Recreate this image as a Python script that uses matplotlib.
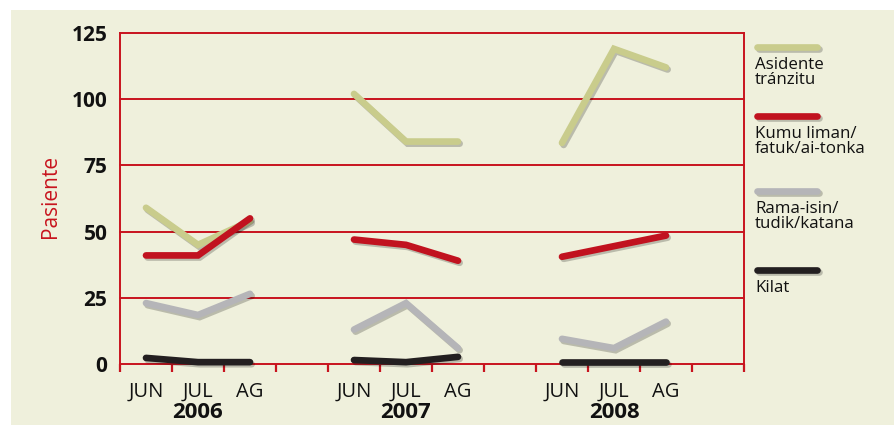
import matplotlib
matplotlib.use("Agg")
import matplotlib.pyplot as plt
import matplotlib.patheffects as pe
from matplotlib.patches import Rectangle
from matplotlib.lines import Line2D

plt.rcParams['font.family'] = ['Open Sans', 'DejaVu Sans']

years = ["2006", "2007", "2008"]
months = ["JUN", "JUL", "AG"]
series_names = ["Asidente\ntránzitu", "Kumu liman/\nfatuk/ai-tonka", "Rama-isin/\ntudik/katana", "Kilat"]
asidente = [[59, 45, 54], [102, 84, 84], [83.5, 119, 112]]
kumu = [[41, 41, 55], [47, 45, 39], [40.5, 44.5, 48.5]]
rama = [[23, 18.5, 26.5], [13, 23, 6], [9.5, 6, 16]]
kilat = [[2.3, 0.7, 0.7], [1.5, 0.7, 2.7], [0.7, 0.7, 0.7]]
yticks = [0, 25, 50, 75, 100, 125]

colors = ["#c9cc8c", "#c1121f", "#b5b5b8", "#231f20"]
all_series = [asidente, kumu, rama, kilat]
RED = "#c8141e"
BG = "#eff0dc"

fig = plt.figure(figsize=(8.94, 4.25), dpi=100)
fig.patch.set_facecolor("white")
fig.patches.append(Rectangle((11/894, 0), 1 - 11/894, 1 - 10/425, transform=fig.transFigure,
                             facecolor=BG, edgecolor="none", zorder=-10))

ax = fig.add_axes([120/894, (425-364)/425, 624/894, 331/425])
ax.set_facecolor("none")
ax.set_xlim(0, 12)
ax.set_ylim(0, 125)

for y in yticks:
    ax.axhline(y, color=RED, lw=1.4, zorder=1, clip_on=False)

for s in ["top", "bottom"]:
    ax.spines[s].set_visible(False)
for s in ["left", "right"]:
    ax.spines[s].set_color(RED)
    ax.spines[s].set_linewidth(1.4)

ax.set_yticks(yticks)
ax.set_yticklabels([str(v) for v in yticks], fontsize=15, fontweight="bold", color="#111111")
ax.tick_params(axis="y", length=0, pad=9)

ax.set_xticks(range(13))
ax.set_xticklabels([])
ax.tick_params(axis="x", which="major", direction="out", length=6, width=1.6, color=RED)

month_pos = []
month_lab = []
for yi in range(len(years)):
    for mi in range(len(months)):
        month_pos.append(yi * 4 + mi + 0.5)
        month_lab.append(months[mi])
ax.set_xticks(month_pos, minor=True)
ax.set_xticklabels(month_lab, minor=True, fontsize=14.5, color="#111111")
ax.tick_params(axis="x", which="minor", length=0, pad=13)

for yi, yr in enumerate(years):
    ax.text(yi * 4 + 1.5, -(413 - 364) / 331, yr, transform=ax.get_xaxis_transform(), ha="center",
            va="center", fontsize=16, fontweight="bold", color="#111111")

ax.set_ylabel("Pasiente", color=RED, fontsize=15)
ax.yaxis.set_label_coords(-0.0945, 0.505)

effects = [pe.SimpleLineShadow(offset=(1.2, -1.5), shadow_color="black", alpha=0.22), pe.Normal()]
for si, (ser, col) in enumerate(zip(all_series, colors)):
    for yi in range(len(years)):
        xs = [yi * 4 + mi + 0.5 for mi in range(len(months))]
        ax.plot(xs, ser[yi], color=col, lw=4.8, solid_capstyle="round", solid_joinstyle="miter",
                zorder=3 + si, clip_on=False, path_effects=effects)

# legend (manual)
leg_line_y = [47, 116, 191, 270]
for name, col, ly in zip(series_names, colors, leg_line_y):
    fig.add_artist(Line2D([757/894, 817/894], [1 - ly/425, 1 - ly/425], transform=fig.transFigure,
                          color=col, lw=4.8, solid_capstyle="round", path_effects=effects))
    fig.text(755/894, 1 - (ly + 10)/425, name, ha="left", va="top", fontsize=12.2,
             color="#111111", linespacing=0.92)

fig.savefig("out.png", dpi=100, facecolor=fig.get_facecolor())
